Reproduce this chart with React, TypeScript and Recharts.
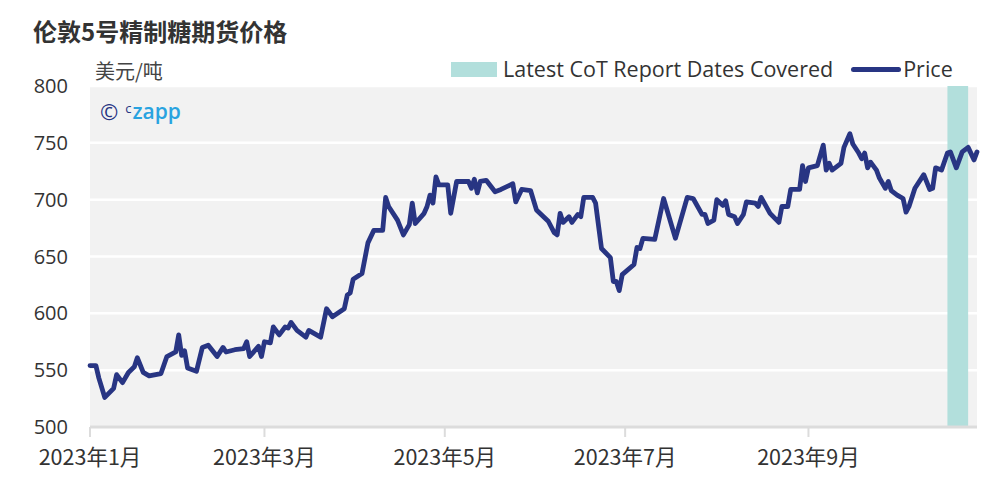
import React from "react";
import {
  LineChart,
  Line,
  XAxis,
  YAxis,
  CartesianGrid,
  ReferenceArea,
} from "recharts";

// days counted from 2023-01-01 (approx. trading days)
const dayOffsets = [
  0, 2, 3, 5, 8, 9, 11, 13, 15, 16, 18, 20, 24, 26, 29, 30, 31, 32, 33, 36,
  38, 40, 43, 45, 46, 49, 52, 53, 54, 57, 58, 59, 61, 62, 64, 66, 67, 68, 70,
  73, 74, 78, 80, 82, 86, 87, 88, 89, 92, 94, 96, 99, 100, 101, 104, 106, 108,
  109, 110, 113, 114, 115, 116, 117, 118, 121, 122, 124, 128, 129, 130, 131,
  132, 134, 137, 139, 143, 144, 146, 149, 151, 155, 157, 158, 159, 160, 162,
  163, 165, 166, 167, 170, 171, 173, 176, 177, 178, 179, 180, 184, 185, 186,
  187, 191, 194, 198, 202, 204, 207, 208, 209, 211, 212, 214, 215, 216, 218,
  219, 221, 222, 225, 226, 227, 230, 233, 234, 236, 237, 240, 241, 242, 243,
  246, 248, 249, 250, 251, 254, 255, 257, 258, 260, 261, 262, 263, 264, 266,
  267, 269, 270, 271, 273, 275, 276, 277, 279, 282, 284, 285, 286, 288, 290,
  291, 293, 295, 297, 299, 300,
];

// 美元/吨
const prices = [
  554, 554, 543, 526, 534, 546, 539, 548, 553, 561, 548, 545, 547, 562, 566,
  581, 563, 567, 552, 549, 570, 572, 562, 570, 566, 568, 569, 575, 562, 571,
  562, 575, 574, 588, 581, 588, 587, 592, 585, 579, 585, 579, 604, 597, 604,
  616, 618, 630, 635, 662, 673, 673, 702, 694, 682, 669, 678, 697, 679, 688,
  694, 704, 697, 720, 713, 713, 688, 716, 716, 710, 718, 706, 716, 717, 707,
  709, 714, 698, 709, 708, 691, 681, 671, 669, 688, 680, 685, 680, 687, 685,
  702, 702, 697, 657, 649, 628, 628, 620, 634, 643, 658, 657, 666, 665, 701,
  666, 702, 701, 687, 687, 679, 682, 700, 695, 699, 687, 685, 679, 687, 698,
  697, 694, 702, 688, 680, 694, 694, 709, 709, 730, 716, 728, 730, 748, 726,
  732, 726, 732, 746, 758, 749, 741, 736, 741, 728, 733, 726, 719, 710, 716,
  708, 704, 701, 689, 694, 710, 722, 709, 710, 728, 726, 741, 742, 728, 742,
  746, 735, 742,
];

const tickDays = [0, 59, 120, 181, 243];
const tickLabels = ["2023年1月", "2023年3月", "2023年5月", "2023年7月", "2023年9月"];
const yTicks = [500, 550, 600, 650, 700, 750, 800];

const cotStart = 290;
const cotEnd = 297;

const data = dayOffsets.map((d, i) => ({ day: d, price: prices[i] }));

const NAVY = "#283583";
const TEAL = "#b2dfdc";
const FONT = "'Open Sans', 'Noto Sans CJK SC', sans-serif";
const CJK = "'Noto Sans CJK SC', 'Open Sans', sans-serif";

function ChartLegend() {
  return (
    <div
      style={{
        position: "absolute",
        left: 451,
        top: 55,
        display: "flex",
        alignItems: "center",
        fontFamily: FONT,
        fontSize: 21.5,
        lineHeight: "28px",
        color: "#333",
        whiteSpace: "nowrap",
      }}
    >
      <span
        style={{
          display: "inline-block",
          width: 46,
          height: 15,
          background: TEAL,
          marginRight: 6,
        }}
      />
      <span>Latest CoT Report Dates Covered</span>
      <span
        style={{
          display: "inline-block",
          width: 50,
          height: 5,
          borderRadius: 3,
          background: NAVY,
          marginLeft: 18,
          marginRight: 2,
        }}
      />
      <span>Price</span>
    </div>
  );
}

export default function App() {
  return (
    <div
      style={{
        position: "absolute",
        top: 0,
        left: 0,
        width: 993,
        height: 486,
        background: "#fff",
      }}
    >
      <div
        style={{
          position: "absolute",
          left: 33,
          top: 13,
          fontFamily: CJK,
          fontWeight: 700,
          fontSize: 24,
          color: "#333",
        }}
      >
        伦敦5号精制糖期货价格
      </div>
      <div
        style={{
          position: "absolute",
          left: 95,
          top: 56,
          fontFamily: CJK,
          fontSize: 20,
          color: "#444",
        }}
      >
        美元/吨
      </div>
      <ChartLegend />

      <LineChart
        width={993}
        height={486}
        data={data}
        margin={{ top: 86, right: 16, bottom: 0, left: 0 }}
      >
        <CartesianGrid
          vertical={false}
          fill="#f2f2f2"
          stroke="#ffffff"
          strokeWidth={2.5}
        />
        <XAxis
          dataKey="day"
          type="number"
          domain={[0, 300]}
          ticks={tickDays}
          tickFormatter={(v: number) => tickLabels[tickDays.indexOf(v)]}
          height={59}
          axisLine={{ stroke: "#dcdcdc", strokeWidth: 3 }}
          tickLine={{ stroke: "#dcdcdc", strokeWidth: 2 }}
          tickSize={10}
          tickMargin={13}
          tick={{ fill: "#333", fontSize: 21.5, fontFamily: CJK }}
          interval={0}
        />
        <YAxis
          domain={[500, 800]}
          ticks={yTicks}
          width={90}
          axisLine={false}
          tickLine={false}
          tickSize={0}
          tickMargin={22}
          tick={{ fill: "#333", fontSize: 20, fontFamily: FONT }}
        />
        <ReferenceArea
          x1={cotStart}
          x2={cotEnd}
          y1={500}
          y2={800}
          fill={TEAL}
          fillOpacity={1}
          stroke="none"
        />
        <Line
          type="linear"
          dataKey="price"
          stroke={NAVY}
          strokeWidth={4.8}
          dot={false}
          strokeLinejoin="round"
          strokeLinecap="round"
          isAnimationActive={false}
        />
      </LineChart>

      <div
        style={{
          position: "absolute",
          left: 100,
          top: 98,
          display: "flex",
          alignItems: "flex-start",
          fontFamily: FONT,
        }}
      >
        <span style={{ color: NAVY, fontSize: 22, lineHeight: "26px" }}>©</span>
        <span
          style={{
            color: NAVY,
            fontSize: 13,
            lineHeight: "14px",
            marginLeft: 7,
            marginTop: 3,
          }}
        >
          c
        </span>
        <span
          style={{
            color: "#29a3e0",
            fontSize: 21,
            fontWeight: 600,
            lineHeight: "26px",
            marginLeft: 1,
          }}
        >
          zapp
        </span>
      </div>
    </div>
  );
}
